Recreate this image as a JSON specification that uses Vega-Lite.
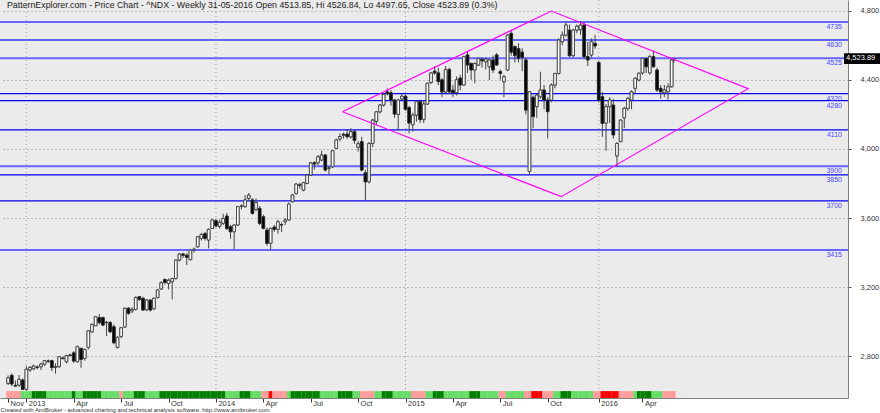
{
"$schema":"https://vega.github.io/schema/vega-lite/v6.json",
"width":848,"height":398,
"autosize":{"type":"none"},
"padding":{"left":0,"top":0,"right":32,"bottom":15},
"background":"white",
"config":{"view":{"fill":"#ebebeb","stroke":null},"font":"Liberation Sans"},
"datasets":{
"w":[
{"d":"2012-11-30","o":2644,"h":2690,"l":2634,"c":2676,"r":"p"},
{"d":"2012-12-07","o":2690,"h":2701,"l":2628,"c":2640,"r":"p"},
{"d":"2012-12-14","o":2632,"h":2660,"l":2624,"c":2628,"r":"p"},
{"d":"2012-12-21","o":2634,"h":2692,"l":2624,"c":2667,"r":"p"},
{"d":"2012-12-28","o":2663,"h":2672,"l":2605,"c":2609,"r":"l"},
{"d":"2013-01-04","o":2609,"h":2744,"l":2601,"c":2725,"r":"l"},
{"d":"2013-01-11","o":2721,"h":2744,"l":2711,"c":2736,"r":"l"},
{"d":"2013-01-18","o":2728,"h":2752,"l":2720,"c":2744,"r":"g"},
{"d":"2013-01-25","o":2738,"h":2748,"l":2725,"c":2736,"r":"g"},
{"d":"2013-02-01","o":2740,"h":2763,"l":2721,"c":2755,"r":"g"},
{"d":"2013-02-08","o":2755,"h":2779,"l":2744,"c":2775,"r":"g"},
{"d":"2013-02-15","o":2773,"h":2782,"l":2762,"c":2771,"r":"l"},
{"d":"2013-02-22","o":2775,"h":2780,"l":2715,"c":2735,"r":"l"},
{"d":"2013-03-01","o":2736,"h":2760,"l":2700,"c":2740,"r":"l"},
{"d":"2013-03-08","o":2740,"h":2800,"l":2735,"c":2798,"r":"l"},
{"d":"2013-03-15","o":2790,"h":2800,"l":2780,"c":2788,"r":"l"},
{"d":"2013-03-22","o":2769,"h":2810,"l":2760,"c":2804,"r":"l"},
{"d":"2013-03-29","o":2805,"h":2815,"l":2798,"c":2808,"r":"l"},
{"d":"2013-04-05","o":2820,"h":2830,"l":2762,"c":2773,"r":"g"},
{"d":"2013-04-12","o":2769,"h":2862,"l":2765,"c":2856,"r":"l"},
{"d":"2013-04-19","o":2846,"h":2850,"l":2734,"c":2782,"r":"l"},
{"d":"2013-04-26","o":2788,"h":2845,"l":2775,"c":2840,"r":"g"},
{"d":"2013-05-03","o":2852,"h":2950,"l":2840,"c":2948,"r":"g"},
{"d":"2013-05-10","o":2942,"h":2990,"l":2935,"c":2985,"r":"g"},
{"d":"2013-05-17","o":2977,"h":3032,"l":2975,"c":3029,"r":"g"},
{"d":"2013-05-24","o":3024,"h":3045,"l":2985,"c":2995,"r":"g"},
{"d":"2013-05-31","o":3024,"h":3030,"l":2975,"c":2981,"r":"l"},
{"d":"2013-06-07","o":2995,"h":3005,"l":2917,"c":2997,"r":"l"},
{"d":"2013-06-14","o":2995,"h":3005,"l":2935,"c":2942,"r":"l"},
{"d":"2013-06-21","o":2971,"h":2985,"l":2870,"c":2879,"r":"l"},
{"d":"2013-06-28","o":2852,"h":2915,"l":2845,"c":2910,"r":"l"},
{"d":"2013-07-05","o":2915,"h":2970,"l":2905,"c":2965,"r":"p"},
{"d":"2013-07-12","o":2970,"h":3082,"l":2965,"c":3078,"r":"l"},
{"d":"2013-07-19","o":3078,"h":3085,"l":3040,"c":3049,"r":"l"},
{"d":"2013-07-26","o":3064,"h":3085,"l":3050,"c":3072,"r":"l"},
{"d":"2013-08-02","o":3072,"h":3148,"l":3065,"c":3140,"r":"g"},
{"d":"2013-08-09","o":3145,"h":3150,"l":3120,"c":3130,"r":"g"},
{"d":"2013-08-16","o":3135,"h":3145,"l":3065,"c":3068,"r":"g"},
{"d":"2013-08-23","o":3070,"h":3130,"l":3062,"c":3126,"r":"l"},
{"d":"2013-08-30","o":3126,"h":3130,"l":3060,"c":3068,"r":"l"},
{"d":"2013-09-06","o":3075,"h":3140,"l":3070,"c":3136,"r":"l"},
{"d":"2013-09-13","o":3140,"h":3188,"l":3135,"c":3184,"r":"l"},
{"d":"2013-09-20","o":3190,"h":3235,"l":3185,"c":3226,"r":"g"},
{"d":"2013-09-27","o":3245,"h":3250,"l":3215,"c":3228,"r":"g"},
{"d":"2013-10-04","o":3222,"h":3250,"l":3188,"c":3240,"r":"g"},
{"d":"2013-10-11","o":3232,"h":3255,"l":3130,"c":3250,"r":"g"},
{"d":"2013-10-18","o":3250,"h":3360,"l":3245,"c":3357,"r":"g"},
{"d":"2013-10-25","o":3357,"h":3398,"l":3350,"c":3392,"r":"g"},
{"d":"2013-11-01","o":3392,"h":3400,"l":3370,"c":3385,"r":"g"},
{"d":"2013-11-08","o":3385,"h":3398,"l":3328,"c":3373,"r":"g"},
{"d":"2013-11-15","o":3360,"h":3418,"l":3355,"c":3415,"r":"g"},
{"d":"2013-11-22","o":3415,"h":3430,"l":3400,"c":3420,"r":"g"},
{"d":"2013-11-29","o":3434,"h":3495,"l":3430,"c":3492,"r":"g"},
{"d":"2013-12-06","o":3483,"h":3515,"l":3470,"c":3505,"r":"g"},
{"d":"2013-12-13","o":3510,"h":3520,"l":3470,"c":3483,"r":"g"},
{"d":"2013-12-20","o":3473,"h":3540,"l":3425,"c":3535,"r":"g"},
{"d":"2013-12-27","o":3540,"h":3592,"l":3538,"c":3589,"r":"g"},
{"d":"2014-01-03","o":3585,"h":3595,"l":3545,"c":3555,"r":"g"},
{"d":"2014-01-10","o":3552,"h":3590,"l":3540,"c":3575,"r":"g"},
{"d":"2014-01-17","o":3570,"h":3625,"l":3560,"c":3598,"r":"g"},
{"d":"2014-01-24","o":3612,"h":3630,"l":3530,"c":3540,"r":"l"},
{"d":"2014-01-31","o":3550,"h":3560,"l":3480,"c":3521,"r":"l"},
{"d":"2014-02-07","o":3521,"h":3565,"l":3419,"c":3560,"r":"l"},
{"d":"2014-02-14","o":3560,"h":3670,"l":3555,"c":3666,"r":"l"},
{"d":"2014-02-21","o":3668,"h":3680,"l":3650,"c":3670,"r":"g"},
{"d":"2014-02-28","o":3666,"h":3733,"l":3660,"c":3705,"r":"g"},
{"d":"2014-03-07","o":3714,"h":3745,"l":3700,"c":3733,"r":"g"},
{"d":"2014-03-14","o":3705,"h":3715,"l":3620,"c":3627,"r":"l"},
{"d":"2014-03-21","o":3650,"h":3714,"l":3640,"c":3690,"r":"l"},
{"d":"2014-03-28","o":3656,"h":3670,"l":3560,"c":3569,"r":"l"},
{"d":"2014-04-04","o":3608,"h":3620,"l":3535,"c":3540,"r":"p"},
{"d":"2014-04-11","o":3531,"h":3545,"l":3440,"c":3454,"r":"p"},
{"d":"2014-04-18","o":3454,"h":3545,"l":3419,"c":3540,"r":"r"},
{"d":"2014-04-25","o":3548,"h":3560,"l":3520,"c":3535,"r":"p"},
{"d":"2014-05-02","o":3535,"h":3590,"l":3510,"c":3579,"r":"p"},
{"d":"2014-05-09","o":3562,"h":3575,"l":3520,"c":3560,"r":"p"},
{"d":"2014-05-16","o":3579,"h":3600,"l":3560,"c":3589,"r":"p"},
{"d":"2014-05-23","o":3589,"h":3690,"l":3585,"c":3681,"r":"l"},
{"d":"2014-05-30","o":3695,"h":3740,"l":3690,"c":3733,"r":"g"},
{"d":"2014-06-06","o":3743,"h":3800,"l":3735,"c":3797,"r":"g"},
{"d":"2014-06-13","o":3792,"h":3805,"l":3770,"c":3790,"r":"g"},
{"d":"2014-06-20","o":3762,"h":3810,"l":3755,"c":3805,"r":"g"},
{"d":"2014-06-27","o":3801,"h":3855,"l":3795,"c":3849,"r":"g"},
{"d":"2014-07-04","o":3849,"h":3925,"l":3845,"c":3920,"r":"g"},
{"d":"2014-07-11","o":3920,"h":3930,"l":3880,"c":3913,"r":"g"},
{"d":"2014-07-18","o":3920,"h":3965,"l":3905,"c":3955,"r":"g"},
{"d":"2014-07-25","o":3936,"h":3990,"l":3930,"c":3965,"r":"l"},
{"d":"2014-08-01","o":3965,"h":3970,"l":3870,"c":3878,"r":"l"},
{"d":"2014-08-08","o":3888,"h":3900,"l":3849,"c":3890,"r":"l"},
{"d":"2014-08-15","o":3897,"h":3995,"l":3890,"c":3990,"r":"l"},
{"d":"2014-08-22","o":4003,"h":4060,"l":4000,"c":4052,"r":"l"},
{"d":"2014-08-29","o":4058,"h":4090,"l":4045,"c":4072,"r":"g"},
{"d":"2014-09-05","o":4085,"h":4095,"l":4060,"c":4080,"r":"g"},
{"d":"2014-09-12","o":4086,"h":4110,"l":4060,"c":4071,"r":"g"},
{"d":"2014-09-19","o":4070,"h":4120,"l":4060,"c":4100,"r":"g"},
{"d":"2014-09-26","o":4100,"h":4110,"l":4030,"c":4050,"r":"l"},
{"d":"2014-10-03","o":4010,"h":4045,"l":3985,"c":4030,"r":"l"},
{"d":"2014-10-10","o":4042,"h":4070,"l":3870,"c":3878,"r":"p"},
{"d":"2014-10-17","o":3862,"h":3880,"l":3704,"c":3810,"r":"p"},
{"d":"2014-10-24","o":3810,"h":4040,"l":3800,"c":4032,"r":"p"},
{"d":"2014-10-31","o":4032,"h":4175,"l":4010,"c":4167,"r":"p"},
{"d":"2014-11-07","o":4160,"h":4220,"l":4140,"c":4215,"r":"l"},
{"d":"2014-11-14","o":4215,"h":4260,"l":4205,"c":4254,"r":"l"},
{"d":"2014-11-21","o":4254,"h":4322,"l":4245,"c":4316,"r":"g"},
{"d":"2014-11-28","o":4330,"h":4350,"l":4310,"c":4320,"r":"g"},
{"d":"2014-12-05","o":4325,"h":4340,"l":4250,"c":4283,"r":"g"},
{"d":"2014-12-12","o":4283,"h":4290,"l":4180,"c":4202,"r":"l"},
{"d":"2014-12-19","o":4200,"h":4290,"l":4110,"c":4283,"r":"l"},
{"d":"2014-12-26","o":4290,"h":4320,"l":4285,"c":4305,"r":"l"},
{"d":"2015-01-02","o":4305,"h":4315,"l":4220,"c":4230,"r":"l"},
{"d":"2015-01-09","o":4240,"h":4250,"l":4090,"c":4150,"r":"l"},
{"d":"2015-01-16","o":4140,"h":4210,"l":4100,"c":4196,"r":"p"},
{"d":"2015-01-23","o":4196,"h":4280,"l":4158,"c":4274,"r":"p"},
{"d":"2015-01-30","o":4274,"h":4285,"l":4150,"c":4170,"r":"p"},
{"d":"2015-02-06","o":4170,"h":4280,"l":4150,"c":4260,"r":"p"},
{"d":"2015-02-13","o":4260,"h":4385,"l":4255,"c":4380,"r":"l"},
{"d":"2015-02-20","o":4385,"h":4445,"l":4375,"c":4440,"r":"l"},
{"d":"2015-02-27","o":4450,"h":4480,"l":4430,"c":4440,"r":"g"},
{"d":"2015-03-06","o":4440,"h":4470,"l":4370,"c":4390,"r":"g"},
{"d":"2015-03-13","o":4400,"h":4410,"l":4300,"c":4330,"r":"g"},
{"d":"2015-03-20","o":4330,"h":4480,"l":4320,"c":4460,"r":"l"},
{"d":"2015-03-27","o":4460,"h":4470,"l":4320,"c":4331,"r":"l"},
{"d":"2015-04-03","o":4340,"h":4370,"l":4300,"c":4326,"r":"l"},
{"d":"2015-04-10","o":4326,"h":4420,"l":4310,"c":4400,"r":"l"},
{"d":"2015-04-17","o":4410,"h":4430,"l":4340,"c":4370,"r":"l"},
{"d":"2015-04-24","o":4370,"h":4540,"l":4365,"c":4534,"r":"l"},
{"d":"2015-05-01","o":4544,"h":4560,"l":4440,"c":4486,"r":"l"},
{"d":"2015-05-08","o":4495,"h":4500,"l":4400,"c":4457,"r":"g"},
{"d":"2015-05-15","o":4457,"h":4500,"l":4380,"c":4495,"r":"g"},
{"d":"2015-05-22","o":4486,"h":4530,"l":4480,"c":4524,"r":"g"},
{"d":"2015-05-29","o":4519,"h":4530,"l":4470,"c":4510,"r":"l"},
{"d":"2015-06-05","o":4505,"h":4530,"l":4460,"c":4520,"r":"l"},
{"d":"2015-06-12","o":4476,"h":4520,"l":4399,"c":4515,"r":"l"},
{"d":"2015-06-19","o":4515,"h":4540,"l":4440,"c":4457,"r":"l"},
{"d":"2015-06-26","o":4544,"h":4555,"l":4480,"c":4486,"r":"l"},
{"d":"2015-07-03","o":4447,"h":4460,"l":4400,"c":4437,"r":"p"},
{"d":"2015-07-10","o":4389,"h":4430,"l":4300,"c":4418,"r":"p"},
{"d":"2015-07-17","o":4457,"h":4665,"l":4450,"c":4659,"r":"l"},
{"d":"2015-07-24","o":4669,"h":4690,"l":4540,"c":4560,"r":"l"},
{"d":"2015-07-31","o":4592,"h":4600,"l":4500,"c":4540,"r":"l"},
{"d":"2015-08-07","o":4580,"h":4611,"l":4500,"c":4524,"r":"l"},
{"d":"2015-08-14","o":4560,"h":4582,"l":4450,"c":4530,"r":"l"},
{"d":"2015-08-21","o":4515,"h":4530,"l":4200,"c":4225,"r":"p"},
{"d":"2015-08-28","o":3870,"h":4335,"l":3850,"c":4331,"r":"p"},
{"d":"2015-09-04","o":4299,"h":4310,"l":4120,"c":4187,"r":"r"},
{"d":"2015-09-11","o":4245,"h":4320,"l":4180,"c":4312,"r":"r"},
{"d":"2015-09-18","o":4302,"h":4447,"l":4290,"c":4341,"r":"r"},
{"d":"2015-09-25","o":4341,"h":4370,"l":4230,"c":4283,"r":"p"},
{"d":"2015-10-02","o":4283,"h":4300,"l":4061,"c":4216,"r":"p"},
{"d":"2015-10-09","o":4283,"h":4380,"l":4270,"c":4370,"r":"p"},
{"d":"2015-10-16","o":4370,"h":4440,"l":4350,"c":4437,"r":"l"},
{"d":"2015-10-23","o":4437,"h":4640,"l":4430,"c":4630,"r":"l"},
{"d":"2015-10-30","o":4621,"h":4680,"l":4600,"c":4659,"r":"g"},
{"d":"2015-11-06","o":4659,"h":4735,"l":4650,"c":4717,"r":"g"},
{"d":"2015-11-13","o":4688,"h":4720,"l":4530,"c":4540,"r":"g"},
{"d":"2015-11-20","o":4540,"h":4695,"l":4530,"c":4688,"r":"l"},
{"d":"2015-11-27","o":4688,"h":4720,"l":4670,"c":4710,"r":"l"},
{"d":"2015-12-04","o":4690,"h":4740,"l":4660,"c":4717,"r":"l"},
{"d":"2015-12-11","o":4717,"h":4730,"l":4520,"c":4534,"r":"l"},
{"d":"2015-12-18","o":4534,"h":4620,"l":4480,"c":4515,"r":"l"},
{"d":"2015-12-25","o":4544,"h":4640,"l":4530,"c":4621,"r":"l"},
{"d":"2016-01-01","o":4611,"h":4660,"l":4580,"c":4596,"r":"p"},
{"d":"2016-01-08","o":4500,"h":4510,"l":4270,"c":4283,"r":"p"},
{"d":"2016-01-15","o":4302,"h":4330,"l":4070,"c":4148,"r":"r"},
{"d":"2016-01-22","o":4150,"h":4260,"l":3990,"c":4245,"r":"r"},
{"d":"2016-01-29","o":4245,"h":4300,"l":4150,"c":4283,"r":"r"},
{"d":"2016-02-05","o":4254,"h":4290,"l":4060,"c":4081,"r":"r"},
{"d":"2016-02-12","o":3960,"h":4040,"l":3897,"c":4032,"r":"r"},
{"d":"2016-02-19","o":4042,"h":4170,"l":4040,"c":4167,"r":"p"},
{"d":"2016-02-26","o":4180,"h":4245,"l":4120,"c":4235,"r":"p"},
{"d":"2016-03-04","o":4235,"h":4300,"l":4220,"c":4293,"r":"p"},
{"d":"2016-03-11","o":4283,"h":4340,"l":4230,"c":4331,"r":"p"},
{"d":"2016-03-18","o":4351,"h":4415,"l":4320,"c":4409,"r":"l"},
{"d":"2016-03-25","o":4399,"h":4445,"l":4390,"c":4437,"r":"g"},
{"d":"2016-04-01","o":4440,"h":4530,"l":4430,"c":4524,"r":"g"},
{"d":"2016-04-08","o":4524,"h":4530,"l":4440,"c":4476,"r":"g"},
{"d":"2016-04-15","o":4440,"h":4545,"l":4430,"c":4534,"r":"g"},
{"d":"2016-04-22","o":4534,"h":4570,"l":4470,"c":4476,"r":"l"},
{"d":"2016-04-29","o":4457,"h":4470,"l":4330,"c":4341,"r":"l"},
{"d":"2016-05-06","o":4351,"h":4370,"l":4290,"c":4331,"r":"l"},
{"d":"2016-05-13","o":4326,"h":4370,"l":4300,"c":4341,"r":"p"},
{"d":"2016-05-20","o":4331,"h":4380,"l":4285,"c":4360,"r":"p"},
{"d":"2016-05-27","o":4360,"h":4520,"l":4355,"c":4515,"r":"p"},
{"d":"2016-05-31","o":4513.85,"h":4526.84,"l":4497.65,"c":4523.89,"r":"p"}
],
"lv":[{"v":4735},{"v":4630},{"v":4525},{"v":4320},{"v":4280},{"v":4110},{"v":3900},{"v":3850},{"v":3700},{"v":3415}],
"yr":[{"d":"2013-01-04"},{"d":"2014-01-03"},{"d":"2015-01-02"},{"d":"2016-01-08"}],
"dm":[{"d":"2014-09-03","p":4215,"i":0},{"d":"2015-10-09","p":4798,"i":1},{"d":"2016-10-21","p":4349,"i":2},{"d":"2015-10-28","p":3724,"i":3},{"d":"2014-09-03","p":4215,"i":4}],
"px":[{"t":"4,523.89","p":4523.89}],
"tt":[{"t":"PatternExplorer.com - Price Chart - ^NDX - Weekly 31-05-2016 Open 4513.85, Hi 4526.84, Lo 4497.65, Close 4523.89 (0.3%)"}]
},
"layer":[
{"data":{"name":"w"},"mark":{"type":"bar","width":2.6,"stroke":"#333","strokeWidth":0.8},
 "encoding":{
  "x":{"field":"d","type":"temporal","scale":{"type":"utc","domain":[{"year":2012,"month":11,"date":24,"utc":true},{"year":2017,"month":4,"date":21,"utc":true}]},
   "axis":{"orient":"bottom","values":[{"year":2012,"month":11,"date":30,"utc":true},{"year":2013,"month":1,"date":4,"utc":true},{"year":2013,"month":4,"date":5,"utc":true},{"year":2013,"month":7,"date":5,"utc":true},{"year":2013,"month":10,"date":4,"utc":true},{"year":2014,"month":1,"date":3,"utc":true},{"year":2014,"month":4,"date":4,"utc":true},{"year":2014,"month":7,"date":4,"utc":true},{"year":2014,"month":10,"date":3,"utc":true},{"year":2015,"month":1,"date":2,"utc":true},{"year":2015,"month":4,"date":3,"utc":true},{"year":2015,"month":7,"date":3,"utc":true},{"year":2015,"month":10,"date":2,"utc":true},{"year":2016,"month":1,"date":8,"utc":true},{"year":2016,"month":4,"date":1,"utc":true}],
    "labelExpr":"utcmonth(datum.value) == 0 ? utcFormat(datum.value, '%Y') : utcFormat(datum.value, '%b')",
    "grid":false,"domain":true,"domainColor":"#808080","ticks":true,"tickColor":"#333","tickSize":4,
    "labelAlign":"left","labelBaseline":"top","labelPadding":-3,"labelOffset":2,"labelFontSize":7.5,"labelColor":"#333","labelFlush":false,"labelOverlap":false,
    "title":"Created with AmiBroker - advanced charting and technical analysis software. http://www.amibroker.com","titleAnchor":"start","titleAlign":"left","titleFontSize":5.9,"titleFontWeight":"normal","titleColor":"#333","titlePadding":0}},
  "y":{"field":"o","type":"quantitative","scale":{"domain":[2559,4862],"nice":false,"zero":false},
   "axis":{"orient":"right","values":[2800,3200,3600,4000,4400,4800],"labelExpr":"format(datum.value, ',')","grid":true,"gridColor":"#8a8a8a","gridDash":[1,3],"domain":true,"domainColor":"#808080","tickSize":3,"tickColor":"#555","labelPadding":9,"labelFontSize":7.5,"labelColor":"#333","title":null}},
  "y2":{"field":"c"},
  "fill":{"condition":{"test":"datum.c >= datum.o","value":"white"},"value":"black"}}},
{"data":{"name":"yr"},"mark":{"type":"rule","color":"#9a9a9a","strokeDash":[1,3],"strokeWidth":1},
 "encoding":{"x":{"field":"d","type":"temporal","axis":{"orient":"bottom"}}}},
{"data":{"name":"lv"},"transform":[{"filter":"indexof([4735,4630,4525,3900,3415], datum.v) >= 0"}],"mark":{"type":"rule","color":"#6464ff","strokeWidth":2},
 "encoding":{"y":{"field":"v","type":"quantitative","axis":{"orient":"right"}}}},
{"data":{"name":"lv"},"transform":[{"filter":"indexof([4735,4630,4525,3900,3415], datum.v) < 0"}],"mark":{"type":"rule","color":"#0000f0","strokeWidth":1.2},
 "encoding":{"y":{"field":"v","type":"quantitative","axis":{"orient":"right"}}}},
{"data":{"name":"lv"},"mark":{"type":"text","color":"#4a4aff","fontSize":7,"align":"right","baseline":"top","dy":1,"dx":-1},
 "encoding":{"y":{"field":"v","type":"quantitative","axis":{"orient":"right"}},"x":{"datum":{"year":2017,"month":4,"date":21,"utc":true},"type":"temporal","axis":{"orient":"bottom"}},"text":{"field":"v","type":"quantitative","format":"d"}}},
{"data":{"name":"w"},"mark":{"type":"bar","width":3.8},
 "encoding":{"x":{"field":"d","type":"temporal","axis":{"orient":"bottom"}},"y":{"datum":2599,"type":"quantitative","axis":{"orient":"right"}},"y2":{"datum":2559},
  "color":{"field":"r","type":"nominal","scale":{"domain":["p","r","g","l"],"range":["#ff9c9c","#ff0000","#008000","#66dd66"]},"legend":null}}},
{"data":{"name":"w"},"mark":{"type":"rule","color":"#444","strokeWidth":1},
 "encoding":{"x":{"field":"d","type":"temporal","axis":{"orient":"bottom"}},"y":{"field":"l","type":"quantitative","axis":{"orient":"right"}},"y2":{"field":"h"}}},
{"data":{"name":"w"},"mark":{"type":"bar","width":2.6,"stroke":"#333","strokeWidth":0.8},
 "encoding":{"x":{"field":"d","type":"temporal","axis":{"orient":"bottom"}},"y":{"field":"o","type":"quantitative","axis":{"orient":"right"}},"y2":{"field":"c"},
  "fill":{"condition":{"test":"datum.c >= datum.o","value":"white"},"value":"black"}}},
{"data":{"name":"dm"},"mark":{"type":"line","color":"#ff00ff","strokeWidth":1.2},
 "encoding":{"x":{"field":"d","type":"temporal","axis":{"orient":"bottom"}},"y":{"field":"p","type":"quantitative","axis":{"orient":"right"}},"order":{"field":"i","type":"quantitative"}}},
{"data":{"name":"px"},"mark":{"type":"rect","color":"black"},
 "encoding":{"x":{"datum":{"year":2017,"month":4,"date":23,"utc":true},"type":"temporal","axis":{"orient":"bottom"}},"x2":{"datum":{"year":2017,"month":7,"date":20,"utc":true}},"y":{"datum":4554,"type":"quantitative","axis":{"orient":"right"}},"y2":{"datum":4492}}},
{"data":{"name":"px"},"mark":{"type":"text","color":"white","fontSize":7.5,"align":"left","baseline":"middle","dx":2},
 "encoding":{"x":{"datum":{"year":2017,"month":4,"date":23,"utc":true},"type":"temporal","axis":{"orient":"bottom"}},"y":{"field":"p","type":"quantitative","axis":{"orient":"right"}},"text":{"field":"t"}}},
{"data":{"name":"tt"},"mark":{"type":"text","color":"#222","fontSize":8.8,"font":"Liberation Sans","align":"left","baseline":"top","dx":2,"dy":1},
 "encoding":{"x":{"datum":{"year":2012,"month":11,"date":24,"utc":true},"type":"temporal","axis":{"orient":"bottom"}},"y":{"datum":4862,"type":"quantitative","axis":{"orient":"right"}},"text":{"field":"t"}}}
]
}
